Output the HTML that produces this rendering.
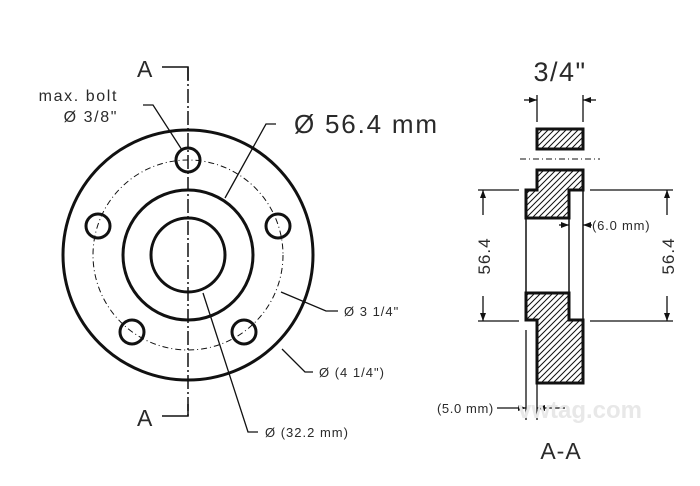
<!DOCTYPE html>
<html><head><style>
html,body{margin:0;padding:0;background:#fff;}
svg{display:block;}
text{font-family:"Liberation Sans",sans-serif;fill:#2a2a2a;}
</style></head><body>
<svg width="700" height="486" viewBox="0 0 700 486" xmlns="http://www.w3.org/2000/svg">
<defs>
<pattern id="h" patternUnits="userSpaceOnUse" x="0" y="0" width="6" height="6">
<path d="M0,6 L6,0 M-1,1 L1,-1 M5,7 L7,5" stroke="#111" stroke-width="1" fill="none"/>
</pattern>
<marker id="ar" markerWidth="8" markerHeight="6" refX="8" refY="3" orient="auto" markerUnits="userSpaceOnUse">
<path d="M0,0 L8,3 L0,6 z" fill="#111"/>
</marker>
</defs>
<g fill="none" stroke="#111">
<circle cx="188" cy="255" r="125" stroke-width="3"/>
<circle cx="188" cy="255" r="65" stroke-width="3"/>
<circle cx="188" cy="255" r="37" stroke-width="3"/>
<circle cx="188" cy="255" r="95" stroke-width="1" stroke-dasharray="6,3,1,3"/>
<circle cx="188" cy="160" r="12" stroke-width="3"/>
<circle cx="278" cy="226" r="12" stroke-width="3"/>
<circle cx="98" cy="226" r="12" stroke-width="3"/>
<circle cx="244" cy="332" r="12" stroke-width="3"/>
<circle cx="132" cy="332" r="12" stroke-width="3"/>
<line x1="188" y1="67" x2="188" y2="416" stroke-width="1.5" stroke-dasharray="14,3,2,3"/>
<polyline points="162,67 188,67 188,80" stroke-width="1.5"/>
<polyline points="162,416 188,416 188,404" stroke-width="1.5"/>
<polyline points="143,105 153,105 182,150" stroke-width="1.3"/>
<polyline points="276,124 266,124 225,198" stroke-width="1.3"/>
<polyline points="338,311 326,311 281,292" stroke-width="1.3"/>
<polyline points="313,372 305,372 282,349" stroke-width="1.3"/>
<polyline points="258,432 248,432 203,293" stroke-width="1.3"/>
<rect x="537" y="129" width="46" height="20" fill="url(#h)" stroke-width="3"/>
<line x1="520" y1="159" x2="600" y2="159" stroke-width="1" stroke-dasharray="6,3,1,3"/>
<polygon points="537,170 583,170 583,190 569,190 569,218 526,218 526,190 537,190" fill="url(#h)" stroke-width="3"/>
<polygon points="526,293 569,293 569,320 583,320 583,383 537,383 537,320 526,320" fill="url(#h)" stroke-width="3"/>
<line x1="526" y1="218" x2="526" y2="293" stroke-width="1.5"/>
<line x1="569" y1="218" x2="569" y2="293" stroke-width="1.5"/>
<line x1="583" y1="190" x2="583" y2="320" stroke-width="1.5"/>
<line x1="537" y1="95" x2="537" y2="122" stroke-width="1.3"/>
<line x1="583" y1="95" x2="583" y2="122" stroke-width="1.3"/>
<line x1="524" y1="100" x2="537" y2="100" stroke-width="1.3" marker-end="url(#ar)"/>
<line x1="596" y1="100" x2="583" y2="100" stroke-width="1.3" marker-end="url(#ar)"/>
<line x1="478" y1="190" x2="519" y2="190" stroke-width="1.3"/>
<line x1="478" y1="321" x2="519" y2="321" stroke-width="1.3"/>
<line x1="483" y1="215" x2="483" y2="190" stroke-width="1.3" marker-end="url(#ar)"/>
<line x1="483" y1="296" x2="483" y2="321" stroke-width="1.3" marker-end="url(#ar)"/>
<line x1="590" y1="190" x2="673" y2="190" stroke-width="1.3"/>
<line x1="590" y1="321" x2="673" y2="321" stroke-width="1.3"/>
<line x1="667" y1="215" x2="667" y2="190" stroke-width="1.3" marker-end="url(#ar)"/>
<line x1="667" y1="296" x2="667" y2="321" stroke-width="1.3" marker-end="url(#ar)"/>
<line x1="559" y1="225" x2="569" y2="225" stroke-width="1.3" marker-end="url(#ar)"/>
<line x1="592" y1="225" x2="583" y2="225" stroke-width="1.3" marker-end="url(#ar)"/>
<line x1="526" y1="330" x2="526" y2="420" stroke-width="1.3"/>
<line x1="537" y1="330" x2="537" y2="420" stroke-width="1.3"/>
<line x1="497" y1="408" x2="526" y2="408" stroke-width="1.3" marker-end="url(#ar)"/>
<line x1="565" y1="408" x2="537" y2="408" stroke-width="1.3" marker-end="url(#ar)"/>
</g>
<text x="137" y="77" font-size="23">A</text>
<text x="137" y="426" font-size="23">A</text>
<text x="118" y="101" font-size="16" letter-spacing="1.6" text-anchor="end">max. bolt</text>
<text x="118" y="122" font-size="16" letter-spacing="1.6" text-anchor="end">Ø 3/8"</text>
<text x="294" y="133" font-size="26" letter-spacing="1.8">Ø 56.4 mm</text>
<text x="344" y="316" font-size="13" letter-spacing="1">Ø 3 1/4"</text>
<text x="319" y="377" font-size="13" letter-spacing="1">Ø (4 1/4")</text>
<text x="265" y="437" font-size="13" letter-spacing="1">Ø (32.2 mm)</text>
<text x="560" y="81" font-size="27" letter-spacing="1.5" text-anchor="middle">3/4"</text>
<text x="592" y="230" font-size="13" letter-spacing="0.8">(6.0 mm)</text>
<text x="437" y="413" font-size="13" letter-spacing="0.6">(5.0 mm)</text>
<text x="561" y="459" font-size="23" letter-spacing="1" text-anchor="middle">A-A</text>
<text transform="translate(490,256) rotate(-90)" font-size="17" letter-spacing="1" text-anchor="middle">56.4</text>
<text transform="translate(674,256) rotate(-90)" font-size="17" letter-spacing="1" text-anchor="middle">56.4</text>
<text x="580" y="418" font-size="24" style="fill:#e8e8e8;font-weight:bold" text-anchor="middle">vwtag.com</text>
</svg>
</body></html>
